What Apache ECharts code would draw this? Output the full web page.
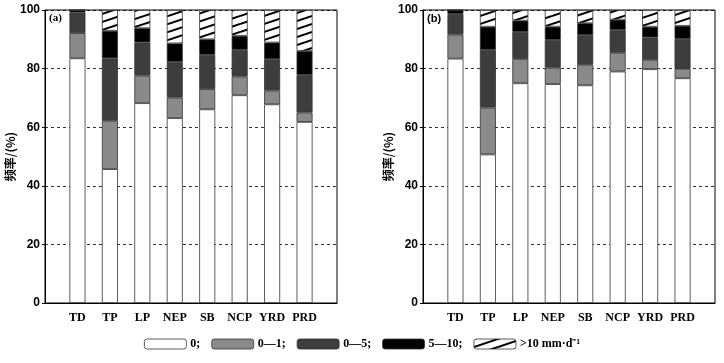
<!DOCTYPE html>
<html><head><meta charset="utf-8">
<script src="https://cdn.jsdelivr.net/npm/echarts@6/dist/echarts.min.js"></script>
<style>html,body{margin:0;padding:0;background:#fff}#c{width:724px;height:363px}</style>
</head><body><div id="c"></div>
<script>
const categories = ['TD','TP','LP','NEP','SB','NCP','YRD','PRD'];
const seriesNames = ['0;', '0\u20141;', '0\u20145;', '5\u201410;', '>10 mm\u00b7d\u207b\u00b9'];
const yTicks = [0, 20, 40, 60, 80, 100];
// panel (a)
const a_0    = [83.5, 45.7, 68.2, 63.1, 66.1, 70.9, 67.8, 61.8];
const a_0_1  = [8.6, 16.5, 9.4, 7.0, 6.9, 6.4, 4.7, 3.2];
const a_0_5  = [7.0, 21.3, 11.3, 12.2, 11.7, 9.1, 10.7, 12.8];
const a_5_10 = [0.9, 9.4, 4.9, 6.3, 5.3, 4.8, 5.7, 8.2];
const a_gt10 = [0.0, 7.1, 6.2, 11.4, 10.0, 8.8, 11.1, 14.0];
// panel (b)
const b_0    = [83.4, 50.7, 75.0, 74.7, 74.3, 79.0, 79.8, 76.7];
const b_0_1  = [8.2, 16.0, 8.3, 5.6, 7.0, 6.4, 3.2, 3.2];
const b_0_5  = [7.0, 19.7, 9.2, 9.5, 10.1, 7.8, 7.6, 10.2];
const b_5_10 = [1.4, 7.9, 3.9, 4.5, 4.1, 3.5, 3.7, 4.5];
const b_gt10 = [0.0, 5.7, 3.6, 5.7, 4.5, 3.3, 5.7, 5.4];

function hatch(){
  const c = document.createElement('canvas');
  c.width = 24; c.height = 8;
  const g = c.getContext('2d');
  g.fillStyle = '#fff'; g.fillRect(0,0,24,8);
  g.strokeStyle = '#000'; g.lineWidth = 2;
  for (const off of [-8, 0, 8]) {
    g.beginPath(); g.moveTo(0, 8 + off); g.lineTo(24, 0 + off); g.stroke();
  }
  return c;
}
const fills = ['#ffffff', '#8a8a8a', '#3d3d3d', '#000000', {image: hatch(), repeat: 'repeat'}];
const pad = arr => ['-'].concat(arr, ['-']);
const axisCats = [''].concat(categories, ['']);

const serifBold = {fontFamily: 'Liberation Serif', fontWeight: 'bold'};
function xAxis(gi){
  return {type:'category', gridIndex: gi, data: axisCats, boundaryGap: false,
    axisLine:{lineStyle:{color:'#000', width:1}}, axisTick:{show:false},
    axisLabel:{color:'#000', fontSize:12, margin:9, ...serifBold, interval:0}};
}
function yAxis(gi){
  return {type:'value', gridIndex: gi, min:0, max:100, interval:20,
    name:'频率/(%)', nameLocation:'middle', nameGap:29,
    nameTextStyle:{fontFamily:'Noto Sans CJK SC', fontWeight:'bold', fontSize:12, color:'#000'},
    axisLine:{show:true, lineStyle:{color:'#000', width:1}},
    axisTick:{show:true, length:3, lineStyle:{color:'#000'}},
    axisLabel:{color:'#000', fontSize:12, fontFamily:'Liberation Sans', fontWeight:'bold', margin:5},
    splitLine:{show:true, lineStyle:{color:'#000', type:[3,3], width:0.8}}};
}
const panels = [[a_0,a_0_1,a_0_5,a_5_10,a_gt10],[b_0,b_0_1,b_0_5,b_5_10,b_gt10]];
const series = [];
panels.forEach((p, gi) => {
  p.forEach((vals, si) => {
    series.push({name: seriesNames[si], type:'bar', stack:'s'+gi, xAxisIndex: gi, yAxisIndex: gi,
      barWidth: 16, data: pad(vals), silent:true,
      itemStyle:{color: fills[si], borderColor:'#333', borderWidth:0.8}});
  });
});

const chart = echarts.init(document.getElementById('c'), null, {renderer:'canvas'});
chart.setOption({
  animation:false,
  backgroundColor:'#fff',
  grid:[
    {left:45, right:387, top:10, bottom:60, show:true, borderColor:'#000', borderWidth:1, backgroundColor:'transparent'},
    {left:423, right:9, top:10, bottom:60, show:true, borderColor:'#000', borderWidth:1, backgroundColor:'transparent'}
  ],
  xAxis:[xAxis(0), xAxis(1)],
  yAxis:[yAxis(0), yAxis(1)],
  legend:{bottom:8, left:'center', itemWidth:42, itemHeight:10, itemGap:11,
    data: seriesNames,
    textStyle:{color:'#000', fontSize:12, padding:[0,0,0,-1], ...serifBold},
    itemStyle:{borderColor:'#333', borderWidth:0.8}},
  graphic:[
    {type:'text', left:49, top:13, style:{text:'(a)', fontSize:11, fontFamily:'Liberation Serif', fontWeight:'bold', fill:'#000'}},
    {type:'text', left:427, top:13, style:{text:'(b)', fontSize:11, fontFamily:'Liberation Sans', fontWeight:'bold', fill:'#000'}}
  ],
  series: series
});
</script></body></html>
